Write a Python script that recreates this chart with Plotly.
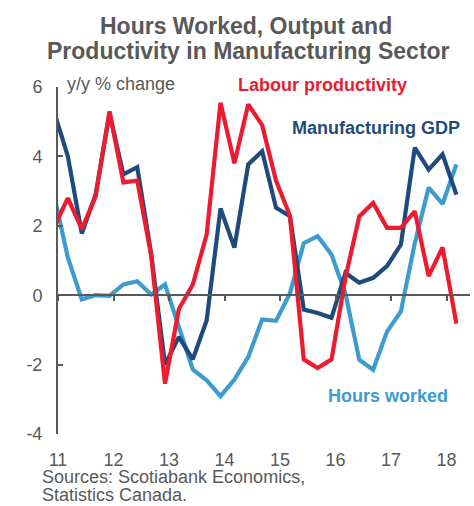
import plotly.graph_objects as go

# Quarterly observations, 2011Q1 .. 2018Q2
quarters = [f"{y}Q{q}" for y in range(2011, 2019) for q in range(1, 5)][:30]

labour_productivity = [1.95, 2.8, 1.9, 2.85, 5.3, 3.25, 3.3, 1.15, -2.55, -0.4,
                       0.3, 1.75, 5.55, 3.8, 5.5, 4.9, 3.3, 2.3, -1.85, -2.1,
                       -1.85, 0.5, 2.27, 2.66, 1.94, 1.94, 2.42, 0.55, 1.38, -0.82]
manufacturing_gdp = [5.3, 4.0, 1.78, 2.9, 5.25, 3.48, 3.69, 1.2, -2.0, -1.2,
                     -1.85, -0.73, 2.5, 1.37, 3.77, 4.15, 2.52, 2.28, -0.41, -0.51,
                     -0.65, 0.64, 0.36, 0.5, 0.84, 1.46, 4.25, 3.62, 4.06, 2.9]
hours_worked = [2.9, 1.08, -0.12, 0.0, -0.02, 0.31, 0.4, 0.02, 0.31, -0.9,
                -2.14, -2.45, -2.91, -2.43, -1.78, -0.7, -0.74, 0.05, 1.5, 1.7,
                1.17, 0.05, -1.86, -2.15, -1.05, -0.47, 1.5, 3.1, 2.63, 3.77]

year_labels = ["11", "12", "13", "14", "15", "16", "17", "18"]
y_ticks = [-4, -2, 0, 2, 4, 6]

x = [int(q[:4]) + (int(q[-1]) - 1) / 4 for q in quarters]

OFF = 0.072  # year tick sits slightly right of Q1 observation
tickvals = [2011 + OFF + i for i in range(len(year_labels))]
x_range = [2011 + OFF, 2018.495]

GRAY = "#595959"
RED = "#EC1B30"
NAVY = "#1F4A7C"
LBLUE = "#3E9BD0"
FONT = "Liberation Sans, Arial, sans-serif"

fig = go.Figure()
fig.add_trace(go.Scatter(x=x, y=hours_worked, mode="lines",
                         line=dict(color=LBLUE, width=4.2), name="Hours worked"))
fig.add_trace(go.Scatter(x=x, y=manufacturing_gdp, mode="lines",
                         line=dict(color=NAVY, width=4.2), name="Manufacturing GDP"))
fig.add_trace(go.Scatter(x=x, y=labour_productivity, mode="lines",
                         line=dict(color=RED, width=4.2), name="Labour productivity"))
# invisible trace to carry the bottom label axis
fig.add_trace(go.Scatter(x=[x_range[0]], y=[0], xaxis="x2", mode="markers",
                         marker=dict(opacity=0), hoverinfo="skip", showlegend=False))

L, R, T, B = 58, 4, 87, 72
W, H = 474, 506
pw, ph = W - L - R, H - T - B

def px(v):
    return (v - L) / pw

def py(v):
    return (H - B - v) / ph

fig.update_layout(
    width=W, height=H,
    margin=dict(l=L, r=R, t=T, b=B, pad=0, autoexpand=False),
    paper_bgcolor="white", plot_bgcolor="white",
    showlegend=False,
    font=dict(family=FONT, size=18, color=GRAY),
    xaxis=dict(range=x_range, anchor="free", position=0.4, automargin=False,
               showline=True, linecolor=GRAY, linewidth=2,
               ticks="outside", ticklen=5, tickwidth=2, tickcolor=GRAY,
               tickvals=tickvals, showticklabels=False,
               showgrid=False, zeroline=False),
    xaxis2=dict(range=x_range, overlaying="x", side="bottom", anchor="y",
                automargin=False,
                showline=False, ticks="", tickvals=tickvals, ticktext=year_labels,
                tickfont=dict(size=18, color=GRAY), ticklabelstandoff=13,
                showgrid=False, zeroline=False),
    yaxis=dict(range=[-4, 6], tickvals=y_ticks, automargin=False,
               ticktext=[str(v) for v in y_ticks],
               showline=True, linecolor=GRAY, linewidth=2,
               ticks="inside", ticklen=5, tickwidth=2, tickcolor=GRAY,
               tickfont=dict(size=18, color=GRAY), ticklabelstandoff=10,
               showgrid=False, zeroline=False),
)

ann = []
ann.append(dict(text="<b>Hours Worked, Output and</b>", x=px(246), y=py(26),
                xanchor="center", yanchor="middle", font=dict(size=23, color=GRAY)))
ann.append(dict(text="<b>Productivity in Manufacturing Sector</b>", x=px(248), y=py(51),
                xanchor="center", yanchor="middle", font=dict(size=23, color=GRAY)))
ann.append(dict(text="y/y % change", x=px(65), y=py(84), xanchor="left",
                yanchor="middle", font=dict(size=18, color=GRAY)))
ann.append(dict(text="<b>Labour productivity</b>", x=px(322.5), y=py(85),
                xanchor="center", yanchor="middle", font=dict(size=18, color=RED)))
ann.append(dict(text="<b>Manufacturing GDP</b>", x=px(376), y=py(128),
                xanchor="center", yanchor="middle", font=dict(size=18, color=NAVY)))
ann.append(dict(text="<b>Hours worked</b>", x=px(388), y=py(396),
                xanchor="center", yanchor="middle", font=dict(size=18, color=LBLUE)))
ann.append(dict(text="Sources: Scotiabank Economics,", x=px(40), y=py(477),
                xanchor="left", yanchor="middle", font=dict(size=18, color=GRAY)))
ann.append(dict(text="Statistics Canada.", x=px(40), y=py(495),
                xanchor="left", yanchor="middle", font=dict(size=18, color=GRAY)))
for a in ann:
    a.update(xref="paper", yref="paper", showarrow=False)
fig.update_layout(annotations=ann)

fig.write_html("out.html", config={"displayModeBar": False},
               post_script="document.body.style.margin='0';document.body.style.overflow='hidden';")
